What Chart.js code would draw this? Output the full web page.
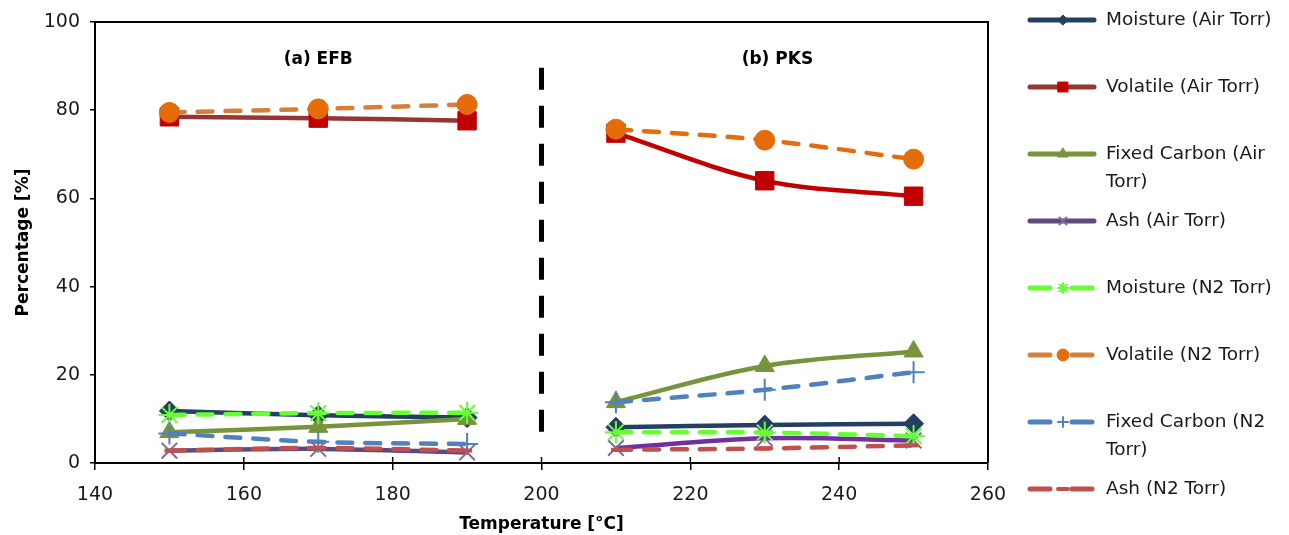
<!DOCTYPE html>
<html>
<head>
<meta charset="utf-8">
<script src="https://cdn.jsdelivr.net/npm/chart.js@4.4.1/dist/chart.umd.min.js"></script>
<style>
  html, body { margin: 0; padding: 0; background: #fff; }
  #wrap { width: 1289px; height: 535px; }
</style>
</head>
<body>
<div id="wrap"><canvas id="chart"></canvas></div>
<script>
// temperatures of the two groups (EFB left, PKS right)
const efbTemps = [150, 170, 190];
const pksTemps = [210, 230, 250];

// values: 3 EFB points then 3 PKS points
const moistureAir = [11.8, 10.8, 10.3, 8.1, 8.6, 8.9];
const volatileAir = [78.5, 78.2, 77.6, 74.8, 64.0, 60.5];
const fixedCarbonAir = [7.0, 8.2, 10.0, 13.8, 22.0, 25.3];
const ashAir = [2.8, 3.2, 2.4, 3.4, 5.6, 5.1];
const moistureN2 = [10.9, 11.3, 11.4, 7.0, 6.9, 6.1];
const volatileN2 = [79.5, 80.3, 81.3, 75.7, 73.2, 68.9];
const fixedCarbonN2 = [6.7, 4.8, 4.3, 13.8, 16.6, 20.6];
const ashN2 = [2.8, 3.4, 2.8, 3.0, 3.3, 4.0];

const divider = [{ x: 200, y: 89.6 }, { x: 200, y: 7.0 }];
const groupLabels = [
  { text: '(a) EFB', x: 170, y: 91.4 },
  { text: '(b) PKS', x: 231.7, y: 91.4 }
];

const FONT = '"DejaVu Sans"';
const TXT = '#1a1a1a';

function points(values) {
  const pts = efbTemps.map((t, i) => ({ x: t, y: values[i] }));
  pts.push({ x: 200, y: null });
  pksTemps.forEach((t, i) => pts.push({ x: t, y: values[i + 3] }));
  return pts;
}

function makeSeries(label, values, o) {
  return {
    label: label,
    data: points(values),
    borderColor: o.line,
    backgroundColor: o.marker,
    pointBackgroundColor: o.marker,
    pointBorderColor: o.marker,
    pointStyle: o.style,
    pointRadius: o.radius,
    pointBorderWidth: o.pbw || 1,
    borderWidth: 4.5,
    borderDash: o.dash ? [15, 13] : [],
    borderCapStyle: o.dash ? 'round' : 'butt',
    tension: 0.35,
    spanGaps: false,
    segment: {
      borderColor: ctx => (ctx.p0.parsed.x > 200 && o.line2) ? o.line2 : o.line
    },
    legendLines: o.legendLines || [label],
    legendRadius: o.lr
  };
}

const series = [
  makeSeries('Moisture (Air Torr)', moistureAir, { line: '#243F60', marker: '#243F60', style: 'rectRot', radius: 10, lr: 5 }),
  makeSeries('Volatile (Air Torr)', volatileAir, { line: '#963634', line2: '#C00000', marker: '#C00000', style: 'rect', radius: 13, lr: 7 }),
  makeSeries('Fixed Carbon (Air Torr)', fixedCarbonAir, { line: '#77933C', marker: '#77933C', style: 'triangle', radius: 11, lr: 6, legendLines: ['Fixed Carbon (Air', 'Torr)'] }),
  makeSeries('Ash (Air Torr)', ashAir, { line: '#604A7B', line2: '#7030A0', marker: '#7F6A9A', style: 'crossRot', radius: 11, pbw: 2, lr: 5 }),
  makeSeries('Moisture (N2 Torr)', moistureN2, { line: '#66FF33', marker: '#66FF33', style: 'star', radius: 11, pbw: 2, dash: true, lr: 5 }),
  makeSeries('Volatile (N2 Torr)', volatileN2, { line: '#D4803A', line2: '#E46C0A', marker: '#E46C0A', style: 'circle', radius: 10, dash: true, lr: 6 }),
  makeSeries('Fixed Carbon (N2 Torr)', fixedCarbonN2, { line: '#4F81BD', marker: '#4F81BD', style: 'cross', radius: 11, pbw: 2, dash: true, lr: 5, legendLines: ['Fixed Carbon (N2', 'Torr)'] }),
  makeSeries('Ash (N2 Torr)', ashN2, { line: '#C0504D', marker: '#C0504D', style: 'line', radius: 5, pbw: 4, dash: true, lr: 5 })
];
// later series are painted on top, like the original
series.forEach((s, i) => { s.order = series.length - i; });

const datasets = series.concat([{
  label: 'divider',
  data: divider,
  borderColor: '#000',
  borderWidth: 5,
  borderDash: [22, 16],
  pointRadius: 0,
  order: 20,
  isDivider: true
}]);

const framePlugin = {
  id: 'frame',
  afterDraw(chart) {
    const { ctx, chartArea: a, scales } = chart;
    ctx.save();
    ctx.strokeStyle = '#000';
    ctx.lineWidth = 2;
    ctx.beginPath();
    ctx.moveTo(a.left, a.top); ctx.lineTo(a.right, a.top); ctx.lineTo(a.right, a.bottom);
    ctx.stroke();
    // inner half of the x ticks
    ctx.lineWidth = 1.5;
    scales.x.ticks.forEach(t => {
      const px = scales.x.getPixelForValue(t.value);
      ctx.beginPath(); ctx.moveTo(px, a.bottom); ctx.lineTo(px, a.bottom - 6); ctx.stroke();
    });
    // group captions
    ctx.fillStyle = '#000';
    ctx.font = 'bold 17px ' + FONT;
    ctx.textAlign = 'center';
    ctx.textBaseline = 'middle';
    groupLabels.forEach(g => {
      ctx.fillText(g.text, scales.x.getPixelForValue(g.x), scales.y.getPixelForValue(g.y));
    });

    // legend on the right
    const lx = 1028, lw = 70, tx = 1106;
    ctx.font = '18.5px ' + FONT;
    ctx.textAlign = 'left';
    chart.data.datasets.forEach((ds, i) => {
      if (ds.isDivider) return;
      const y = 20 + i * 67;
      ctx.save();
      ctx.strokeStyle = ds.borderColor;
      ctx.lineWidth = 5;
      ctx.lineCap = 'round';
      ctx.setLineDash(ds.borderDash.length ? [20, 22] : []);
      ctx.beginPath(); ctx.moveTo(lx + 2, y); ctx.lineTo(lx + lw - 4, y); ctx.stroke();
      ctx.setLineDash([]);
      ctx.fillStyle = ds.pointBackgroundColor;
      ctx.strokeStyle = ds.pointBorderColor;
      ctx.lineWidth = ds.pointBorderWidth;
      Chart.helpers.drawPoint(ctx, {
        pointStyle: ds.pointStyle, radius: ds.legendRadius, rotation: 0, borderWidth: ds.pointBorderWidth
      }, lx + lw / 2, y);
      ctx.restore();
      ctx.fillStyle = TXT;
      ds.legendLines.forEach((line, k) => ctx.fillText(line, tx, y + k * 28));
    });
    ctx.restore();
  }
};

new Chart(document.getElementById('chart'), {
  type: 'line',
  data: { datasets: datasets },
  options: {
    responsive: true,
    maintainAspectRatio: false,
    animation: false,
    devicePixelRatio: 1,
    layout: { padding: { top: 22, right: 301, left: 0, bottom: 0 } },
    plugins: { legend: { display: false }, tooltip: { enabled: false } },
    scales: {
      x: {
        type: 'linear',
        min: 140, max: 260,
        afterFit: s => { s.height = 72; },
        ticks: { stepSize: 20, color: TXT, font: { family: FONT, size: 19 }, padding: 14 },
        grid: { drawOnChartArea: false, color: '#000', lineWidth: 1.5, tickLength: 7, tickColor: '#000' },
        border: { color: '#000', width: 2 },
        title: { display: true, text: 'Temperature [°C]', color: '#000', font: { family: FONT, size: 17, weight: 'bold' }, padding: { top: 0, bottom: 0 } }
      },
      y: {
        min: 0, max: 100,
        afterFit: s => { s.width = 95; },
        ticks: { stepSize: 20, color: TXT, font: { family: FONT, size: 19 }, padding: 10 },
        grid: { drawOnChartArea: false, color: '#000', lineWidth: 1.5, tickLength: 5, tickColor: '#000' },
        border: { color: '#000', width: 2 },
        title: { display: true, text: 'Percentage [%]', color: '#000', font: { family: FONT, size: 17, weight: 'bold' }, padding: { top: 13, bottom: 0 } }
      }
    }
  },
  plugins: [framePlugin]
});
</script>
</body>
</html>
